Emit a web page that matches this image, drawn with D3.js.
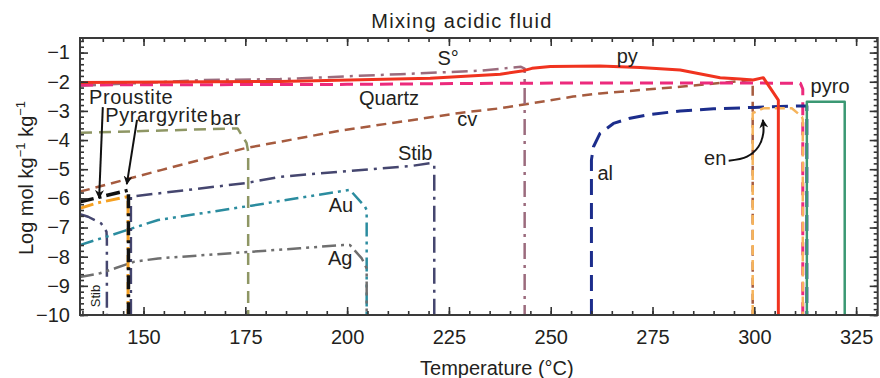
<!DOCTYPE html>
<html>
<head>
<meta charset="utf-8">
<script src="https://cdn.jsdelivr.net/npm/d3@7/dist/d3.min.js"></script>
<style>
body{margin:0;background:#fff;}
svg{font-family:"Liberation Sans",Arial,Helvetica,sans-serif;}
</style>
</head>
<body>
<div id="chart"></div>
<script>
// assi
var xTicks=[150,175,200,225,250,275,300,325];
var yTicks=[-10,-9,-8,-7,-6,-5,-4,-3,-2,-1];

// curve (temperatura, log mol)
var tempPy=[134.4,183.5,220.4,237.6,243.3,245.4,249.9,262.1,272,281.8,291.6,296.5,299.7,302.2,305.9,305.9];
var logPy=[-2.03,-1.99,-1.88,-1.74,-1.62,-1.54,-1.48,-1.46,-1.51,-1.60,-1.86,-1.91,-1.94,-1.86,-2.63,-10];

var tempQuartz=[134.4,200,240,280,311.3,311.9,311.9];
var logQuartz=[-2.11,-2.09,-2.05,-2.04,-2.05,-2.25,-10];

var tempS=[134.4,165,183.5,213,232.6,242.7,243.6,243.6];
var logS=[-2.14,-1.94,-1.91,-1.74,-1.62,-1.49,-1.55,-10];

var tempCv=[134.4,154.3,174.9,197.8,227.7,237.6,255.5,262.1,281.8,299.2,299.6,299.6];
var logCv=[-5.77,-5.03,-4.28,-3.69,-3.07,-2.91,-2.51,-2.40,-2.17,-1.94,-2.0,-10];

var tempBar=[134.4,173.1,175.3,175.7,175.7];
var logBar=[-3.75,-3.60,-4.10,-4.4,-10];

var tempStib=[146.9,146.9,174.9,183.5,197.8,216.2,220.6,221.4,221.4];
var logStib=[-10,-5.94,-5.48,-5.26,-5.09,-4.88,-4.79,-4.85,-10];

var tempStib2=[134.4,136.4,139.6,140.9,141.0,141.0];
var logStib2=[-6.54,-6.63,-6.86,-7.14,-7.43,-10];

var tempAu=[134.4,142.1,153.6,176.5,188.4,197.8,200.7,204.4,204.8,204.8];
var logAu=[-7.60,-7.26,-6.74,-6.25,-5.98,-5.77,-5.71,-6.29,-6.4,-10];

var tempAg=[134.4,139.3,143.2,147.8,153.6,188.4,199,200.7,203.6,204.4,204.8,204.8];
var logAg=[-8.70,-8.57,-8.39,-8.17,-8.06,-7.71,-7.60,-7.60,-8.06,-8.29,-8.4,-10];

var tempProustite=[134.4,138.8,146.2,146.2];
var logProustite=[-6.34,-6.15,-5.94,-10];

var tempPyrarg=[134.4,146.3,146.3];
var logPyrarg=[-6.12,-5.72,-10];

var tempAl=[260.0,260.0,260.5,262.1,263.8,265.4,269.5,273.6,281.8,290.0,299.8,311.7,312.9,312.9];
var logAl=[-10,-4.68,-4.23,-3.77,-3.60,-3.43,-3.25,-3.14,-3.00,-2.93,-2.88,-2.83,-2.83,-10];

var tempEn=[299.6,299.6,302.2,309.2,311.7,311.9,311.9];
var logEn=[-10,-3.08,-2.91,-2.91,-3.20,-3.3,-10];

var tempPyro=[312.9,312.9,322.2,322.2];
var logPyro=[-10,-2.69,-2.69,-10];

// etichette
var labelNames=["S\u00b0","py","Quartz","cv","Stib","Au","Ag","al","en","pyro"];
var labelTemps=[224.8,268.8,210.3,229.5,216.7,198.5,198.3,263.4,290.4,318.6];
var labelLogs=[-1.43,-1.36,-2.80,-3.52,-4.68,-6.47,-8.29,-5.37,-4.86,-2.39];

var leftNames=["Proustite","Pyrargyrite","bar"];
var leftTemps=[136.6,140.6,166.4];
var leftLogs=[-2.76,-3.37,-3.49];

// frecce (coda -> punta)
var arrowProustiteT=[140.0,139.1], arrowProustiteC=[-2.87,-5.99];
var arrowPyrargT=[148.4,145.9], arrowPyrargC=[-3.31,-5.51];
var arrowEnT=[293.7,298.2,301.0,302.2,302.1], arrowEnC=[-4.71,-4.57,-4.23,-3.77,-3.31];

var larghezza=880, altezza=378;
var m={top:38,right:2.3,bottom:63,left:80};

var x=d3.scaleLinear().domain([134.4,330.3]).range([m.left,larghezza-m.right]);
var y=d3.scaleLinear().domain([-10,-0.5]).range([altezza-m.bottom,m.top]);

var svg=d3.select("#chart").append("svg")
  .attr("width",larghezza).attr("height",altezza);

svg.append("defs").append("clipPath").attr("id","clip")
  .append("rect").attr("x",m.left).attr("y",m.top)
  .attr("width",larghezza-m.left-m.right).attr("height",altezza-m.top-m.bottom);

var serie=[
  {t:tempBar,c:logBar,col:"#8e9664",w:2.5,dash:"12,7"},
  {t:tempCv,c:logCv,col:"#a65b3f",w:2.5,dash:"10,6"},
  {t:tempStib,c:logStib,col:"#45466f",w:2.5,dash:"16,6,3,6"},
  {t:tempStib2,c:logStib2,col:"#45466f",w:2.5,dash:"16,6,3,6"},
  {t:tempAu,c:logAu,col:"#2b8c9f",w:2.5,dash:"14,5,3,5,3,5"},
  {t:tempAg,c:logAg,col:"#6f6f6f",w:2.5,dash:"14,5,3,5,3,5"},
  {t:tempS,c:logS,col:"#9b6b7d",w:2.5,dash:"16,6,3,6"},
  {t:tempQuartz,c:logQuartz,col:"#ec2a7c",w:3,dash:"13,7"},
  {t:tempAl,c:logAl,col:"#1c2d8c",w:3,dash:"16,8"},
  {t:tempEn,c:logEn,col:"#f6b45c",w:2.5,dash:"10,5"},
  {t:tempPyro,c:logPyro,col:"#3b9873",w:2.5,dash:null},
  {t:tempProustite,c:logProustite,col:"#f5a021",w:3,dash:"14,5,3,5"},
  {t:tempPyrarg,c:logPyrarg,col:"#111",w:3.5,dash:"14,5,3,5"},
  {t:tempPy,c:logPy,col:"#f0331f",w:3,dash:null}
];

var linea=d3.line().x(function(d){return x(d[0]);}).y(function(d){return y(d[1]);});

var gLines=svg.append("g").attr("clip-path","url(#clip)");
serie.forEach(function(s){
  var pts=s.t.map(function(t,i){return [t,s.c[i]];});
  gLines.append("path").datum(pts)
    .attr("d",linea)
    .attr("fill","none")
    .attr("stroke",s.col)
    .attr("stroke-width",s.w)
    .attr("stroke-dasharray",s.dash)
    .attr("stroke-linejoin","round");
});

// assi con tacche interne
var h=altezza-m.bottom, wR=larghezza-m.right;
var minX=d3.range(135,331,5), minY=d3.range(-10,-0.45,0.2);

function stileAsse(g){
  g.select(".domain").remove();
  g.selectAll("line").attr("stroke","#333").attr("stroke-width",1.6);
  g.selectAll("text").attr("fill","#231f20").style("font-size","20px");
}

svg.append("g").attr("transform","translate(0,"+h+")")
  .call(d3.axisBottom(x).tickValues(minX).tickSize(-4).tickFormat("")).call(stileAsse);
svg.append("g").attr("transform","translate(0,"+h+")")
  .call(d3.axisBottom(x).tickValues(xTicks).tickSize(-8).tickPadding(15).tickFormat(d3.format("d"))).call(stileAsse);
svg.append("g").attr("transform","translate(0,"+m.top+")")
  .call(d3.axisTop(x).tickValues(minX).tickSize(-4).tickFormat("")).call(stileAsse);
svg.append("g").attr("transform","translate(0,"+m.top+")")
  .call(d3.axisTop(x).tickValues(xTicks).tickSize(-8).tickFormat("")).call(stileAsse);

svg.append("g").attr("transform","translate("+m.left+",0)")
  .call(d3.axisLeft(y).tickValues(minY).tickSize(-4).tickFormat("")).call(stileAsse);
svg.append("g").attr("transform","translate("+m.left+",0)")
  .call(d3.axisLeft(y).tickValues(yTicks).tickSize(-8).tickPadding(10)).call(stileAsse);
svg.append("g").attr("transform","translate("+wR+",0)")
  .call(d3.axisRight(y).tickValues(minY).tickSize(-4).tickFormat("")).call(stileAsse);
svg.append("g").attr("transform","translate("+wR+",0)")
  .call(d3.axisRight(y).tickValues(yTicks).tickSize(-8).tickFormat("")).call(stileAsse);

svg.append("rect").attr("x",m.left).attr("y",m.top)
  .attr("width",wR-m.left).attr("height",h-m.top)
  .attr("fill","none").attr("stroke","#3a3a3a").attr("stroke-width",2);

// titoli
svg.append("text").attr("x",462).attr("y",28).attr("text-anchor","middle")
  .style("font-size","20px").style("letter-spacing","1.3px").attr("fill","#231f20").text("Mixing acidic fluid");
svg.append("text").attr("x",(m.left+wR)/2+18).attr("y",375).attr("text-anchor","middle")
  .style("font-size","20px").attr("fill","#231f20").text("Temperature (\u00b0C)");

var yl=svg.append("text").attr("transform","translate(33,178) rotate(-90)")
  .attr("text-anchor","middle").style("font-size","20px").attr("fill","#231f20");
yl.append("tspan").text("Log mol kg");
yl.append("tspan").attr("dy",-8).style("font-size","13px").text("\u22121");
yl.append("tspan").attr("dy",8).text(" kg");
yl.append("tspan").attr("dy",-8).style("font-size","13px").text("\u22121");

// etichette delle curve
labelNames.forEach(function(n,i){
  svg.append("text").attr("x",x(labelTemps[i])).attr("y",y(labelLogs[i]))
    .attr("text-anchor","middle").style("font-size","20px").attr("fill","#231f20").text(n);
});
leftNames.forEach(function(n,i){
  svg.append("text").attr("x",x(leftTemps[i])).attr("y",y(leftLogs[i]))
    .attr("text-anchor","start").style("font-size","20px").style("letter-spacing","0.6px")
    .attr("fill","#231f20").text(n);
});
svg.append("text")
  .attr("transform","translate("+x(138.1)+","+y(-9.35)+") rotate(-90)")
  .attr("text-anchor","middle").attr("dy","0.35em")
  .style("font-size","13px").attr("fill","#231f20").text("Stib");

// frecce
svg.select("defs").append("marker").attr("id","punta")
  .attr("viewBox","0 0 10 10").attr("refX",9).attr("refY",5)
  .attr("markerWidth",9).attr("markerHeight",9).attr("orient","auto")
  .attr("markerUnits","userSpaceOnUse")
  .append("path").attr("d","M0,0L10,5L0,10L3,5Z").attr("fill","#111");

function freccia(ts,cs,curva){
  var pts=ts.map(function(t,i){return [t,cs[i]];});
  svg.append("path").datum(pts)
    .attr("d",d3.line().x(function(d){return x(d[0]);}).y(function(d){return y(d[1]);}).curve(curva))
    .attr("fill","none").attr("stroke","#111").attr("stroke-width",2)
    .attr("marker-end","url(#punta)");
}
freccia(arrowProustiteT,arrowProustiteC,d3.curveLinear);
freccia(arrowPyrargT,arrowPyrargC,d3.curveLinear);
freccia(arrowEnT,arrowEnC,d3.curveCatmullRom);
</script>
</body>
</html>
